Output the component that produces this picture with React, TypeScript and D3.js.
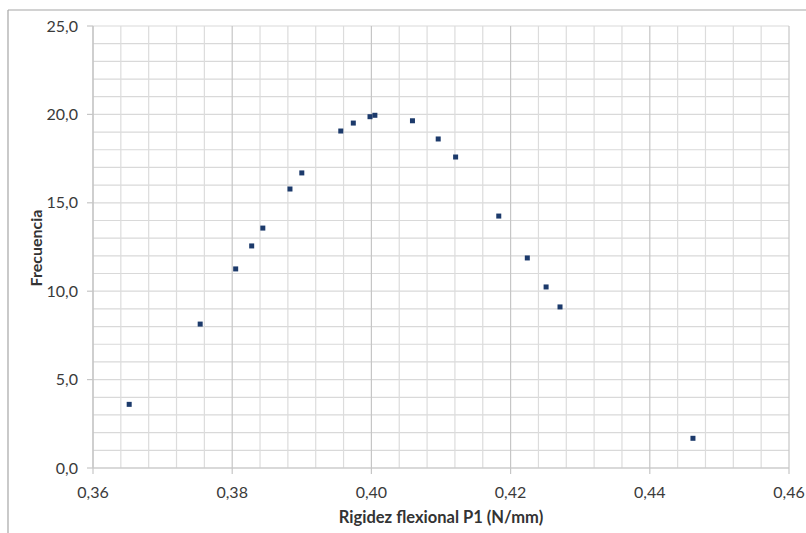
import React from "react";
import * as d3 from "d3";

const xValues = [0.3652, 0.3754, 0.3805, 0.3828, 0.3844, 0.3883, 0.3900, 0.3956, 0.3974, 0.3998, 0.4005, 0.4059, 0.4096, 0.4121, 0.4183, 0.4224, 0.4251, 0.4271, 0.4462];
const yValues = [3.6, 8.14, 11.26, 12.56, 13.57, 15.78, 16.69, 19.06, 19.51, 19.87, 19.95, 19.64, 18.61, 17.59, 14.25, 11.88, 10.24, 9.11, 1.68];
const xMajorTicks = [0.36, 0.38, 0.40, 0.42, 0.44, 0.46];
const yMajorTicks = [0, 5, 10, 15, 20, 25];
const xTitle = "Rigidez flexional P1 (N/mm)";
const yTitle = "Frecuencia";

export default function App() {
  const W = 806, H = 533;
  const left = 93, right = 789, top = 26, bottom = 468;
  const x = d3.scaleLinear().domain([0.36, 0.46]).range([left, right]);
  const y = d3.scaleLinear().domain([0, 25]).range([bottom, top]);
  const xMinor = d3.range(0, 26).map((i) => 0.36 + i * 0.004);
  const yMinor = d3.range(0, 26);
  const fmtX = (v: number) => v.toFixed(2).replace(".", ",");
  const fmtY = (v: number) => v.toFixed(1).replace(".", ",");
  const font = "Lato, 'Open Sans', sans-serif";
  const ms = 5;
  return (
    <svg width={W} height={H} style={{ position: "absolute", left: 0, top: 0, background: "#fff" }}>
      <line x1={8} y1={10} x2={806} y2={10} stroke="#a6a6a6" strokeWidth={1.2} />
      <line x1={8} y1={10} x2={8} y2={533} stroke="#a6a6a6" strokeWidth={1.2} />
      {yMinor.map((v) => (
        <line key={"hy" + v} x1={left} x2={right} y1={y(v)} y2={y(v)} stroke="#d9d9d9" strokeWidth={1.2} />
      ))}
      {xMinor.map((v, i) => (
        <line key={"vx" + i} x1={x(v)} x2={x(v)} y1={top} y2={bottom} stroke={i % 5 === 0 ? "#c6c6c6" : "#dcdcdc"} strokeWidth={1.2} />
      ))}
      <line x1={left} x2={left} y1={top} y2={bottom} stroke="#c6c6c6" strokeWidth={1.2} />
      <line x1={left} x2={right} y1={bottom} y2={bottom} stroke="#c6c6c6" strokeWidth={1.2} />
      {yMajorTicks.map((v) => (
        <g key={"yt" + v}>
          <line x1={left - 6} x2={left} y1={y(v)} y2={y(v)} stroke="#c6c6c6" strokeWidth={1.2} />
          <text x={78} y={y(v)} dy="0.35em" textAnchor="end" fontFamily={font} fontSize={16} fill="#3a3a3a">{fmtY(v)}</text>
        </g>
      ))}
      {xMajorTicks.map((v) => (
        <g key={"xt" + v}>
          <line x1={x(v)} x2={x(v)} y1={bottom} y2={bottom + 6} stroke="#c6c6c6" strokeWidth={1.2} />
          <text x={x(v)} y={bottom + 24} dy="0.35em" textAnchor="middle" fontFamily={font} fontSize={16} fill="#3a3a3a">{fmtX(v)}</text>
        </g>
      ))}
      <text x={441} y={517} dy="0.35em" textAnchor="middle" fontFamily={font} fontSize={16.5} fontWeight="bold" fill="#333">{xTitle}</text>
      <text transform={`translate(36,${248}) rotate(-90)`} dy="0.35em" textAnchor="middle" fontFamily={font} fontSize={16} fontWeight="bold" fill="#333">{yTitle}</text>
      {xValues.map((xv, i) => (
        <rect key={"p" + i} x={x(xv) - ms / 2} y={y(yValues[i]) - ms / 2} width={ms} height={ms} fill="#1c3a6b" />
      ))}
    </svg>
  );
}
